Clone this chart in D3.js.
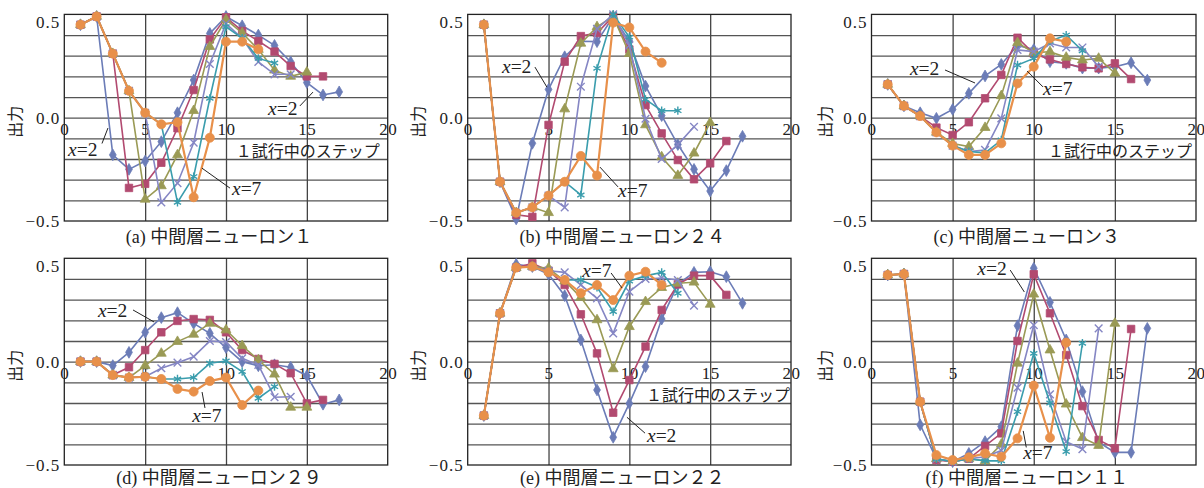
<!DOCTYPE html>
<html><head><meta charset="utf-8">
<script src="https://cdn.jsdelivr.net/npm/d3@7"></script>
<style>
html,body{margin:0;padding:0;background:#fff;}
svg{display:block;}
</style></head>
<body>
<svg id="chart" width="1204" height="488"></svg>
<script>
// ---------- data ----------
const seriesNames = ["x=2", "x=3", "x=4", "x=5", "x=6", "x=7"];
const panelCaptions = ["中間層ニューロン１", "中間層ニューロン２４", "中間層ニューロン３", "中間層ニューロン２９", "中間層ニューロン２２", "中間層ニューロン１１"];
const panelLetters = ["(a)", "(b)", "(c)", "(d)", "(e)", "(f)"];
const xTicks = [0, 5, 10, 15, 20];
const yTicks = [-0.5, 0.0, 0.5];
const yGrid = [-0.4, -0.3, -0.2, -0.1, 0, 0.1, 0.2, 0.3, 0.4];
const xAxisTitle = "１試行中のステップ";
const yAxisTitle = "出力";

// panel (a) 中間層ニューロン１
const a_x2 = [0.45,0.49,-0.18,-0.25,-0.21,-0.116,0.024,0.182,0.408,0.49,0.445,0.40,0.35,0.27,0.17,0.11,0.125];
const a_x3 = [0.45,0.49,0.31,-0.34,-0.32,-0.218,-0.051,0.134,0.379,0.486,0.42,0.371,0.32,0.25,0.2,0.2];
const a_x4 = [0.45,0.49,0.31,0.13,-0.395,-0.33,-0.18,0.034,0.344,0.475,0.41,0.33,0.23,0.2,0.22];
const a_x5 = [0.45,0.49,0.31,0.13,0.024,-0.41,-0.317,-0.121,0.26,0.455,0.385,0.27,0.21,0.21];
const a_x6 = [0.45,0.49,0.31,0.13,0.024,-0.032,-0.41,-0.285,0.094,0.44,0.385,0.287,0.265];
const a_x7 = [0.45,0.49,0.31,0.13,0.024,-0.032,-0.022,-0.385,-0.097,0.368,0.368,0.331];

// panel (b) 中間層ニューロン２４
const b_x2 = [0.45,-0.31,-0.49,-0.124,0.137,0.295,0.37,0.368,0.49,0.37,0.153,0.01,-0.13,-0.25,-0.355,-0.256,-0.09];
const b_x3 = [0.45,-0.31,-0.47,-0.48,-0.035,0.271,0.395,0.41,0.49,0.33,0.061,-0.076,-0.205,-0.298,-0.221,-0.113];
const b_x4 = [0.45,-0.31,-0.46,-0.434,-0.46,0.042,0.36,0.44,0.49,0.31,-0.035,-0.19,-0.28,-0.172,-0.024];
const b_x5 = [0.45,-0.31,-0.46,-0.434,-0.377,-0.434,0.15,0.43,0.5,0.35,-0.005,-0.2,-0.13,-0.044];
const b_x6 = [0.45,-0.31,-0.46,-0.434,-0.377,-0.31,-0.374,0.239,0.5,0.39,0.089,0.034,0.034];
const b_x7 = [0.45,-0.31,-0.46,-0.434,-0.377,-0.31,-0.185,-0.28,0.46,0.437,0.32,0.266];

// panel (c) 中間層ニューロン３
const c_x2 = [0.161,0.057,0.024,-0.003,0.04,0.118,0.202,0.258,0.35,0.33,0.271,0.263,0.24,0.24,0.247,0.266,0.182];
const c_x3 = [0.161,0.057,0.008,-0.048,-0.084,-0.022,0.094,0.207,0.387,0.31,0.282,0.26,0.244,0.239,0.263,0.187];
const c_x4 = [0.161,0.057,0.008,-0.071,-0.125,-0.14,-0.048,0.106,0.363,0.315,0.319,0.292,0.279,0.287,0.215];
const c_x5 = [0.161,0.057,0.008,-0.071,-0.135,-0.164,-0.156,-0.003,0.328,0.32,0.36,0.34,0.34,0.247];
const c_x6 = [0.161,0.057,0.008,-0.071,-0.135,-0.164,-0.17,-0.108,0.255,0.287,0.37,0.4,0.324];
const c_x7 = [0.161,0.057,0.008,-0.071,-0.135,-0.18,-0.18,-0.124,0.166,0.247,0.384,0.368];

// panel (d) 中間層ニューロン２９
const d_x2 = [0,0,-0.019,0.045,0.142,0.213,0.237,0.185,0.137,0.068,0,-0.02,-0.015,-0.027,-0.068,-0.206,-0.185];
const d_x3 = [0,0,-0.065,-0.027,0.056,0.142,0.197,0.206,0.202,0.142,0.056,0.013,-0.011,-0.056,-0.202,-0.185];
const d_x4 = [0,0,-0.065,-0.077,-0.019,0.04,0.097,0.132,0.185,0.153,0.077,0.008,-0.061,-0.221,-0.221];
const d_x5 = [0,0,-0.065,-0.077,-0.073,-0.032,-0.005,0.024,0.1,0.095,0.016,-0.016,-0.172,-0.17];
const d_x6 = [0,0,-0.065,-0.077,-0.073,-0.084,-0.084,-0.077,-0.008,0.003,-0.048,-0.177,-0.121];
const d_x7 = [0,0,-0.065,-0.077,-0.073,-0.084,-0.132,-0.145,-0.094,-0.077,-0.21,-0.14];

// panel (e) 中間層ニューロン２２
const e_x2 = [-0.261,0.234,0.471,0.46,0.423,0.319,0.105,-0.137,-0.366,-0.202,-0.024,0.206,0.374,0.432,0.435,0.411,0.282];
const e_x3 = [-0.261,0.234,0.455,0.476,0.44,0.371,0.229,0.04,-0.247,-0.089,0.073,0.25,0.374,0.416,0.416,0.323];
const e_x4 = [-0.261,0.234,0.455,0.46,0.452,0.39,0.311,0.202,-0.035,0.169,0.29,0.358,0.379,0.384,0.277];
const e_x5 = [-0.261,0.234,0.455,0.46,0.44,0.432,0.371,0.306,0.137,0.339,0.4,0.405,0.395,0.271];
const e_x6 = [-0.261,0.234,0.455,0.46,0.432,0.395,0.395,0.36,0.242,0.39,0.415,0.432,0.331];
const e_x7 = [-0.261,0.234,0.455,0.46,0.432,0.395,0.331,0.371,0.298,0.416,0.435,0.371];

// panel (f) 中間層ニューロン１１
const f_x2 = [0.419,0.424,-0.306,-0.47,-0.484,-0.444,-0.387,-0.315,0.174,0.452,0.287,0.105,-0.145,-0.39,-0.439,-0.439,0.161];
const f_x3 = [0.419,0.424,-0.194,-0.476,-0.484,-0.47,-0.408,-0.347,0.1,0.423,0.234,0.032,-0.215,-0.379,-0.419,0.158];
const f_x4 = [0.419,0.424,-0.194,-0.47,-0.484,-0.47,-0.48,-0.4,-0.008,0.326,0.056,-0.206,-0.368,-0.406,0.185];
const f_x5 = [0.419,0.424,-0.194,-0.47,-0.484,-0.47,-0.46,-0.43,-0.126,0.177,-0.158,-0.387,-0.423,0.161];
const f_x6 = [0.419,0.424,-0.194,-0.47,-0.484,-0.47,-0.48,-0.48,-0.242,0.04,-0.2,-0.435,0.089];
const f_x7 = [0.419,0.424,-0.194,-0.452,-0.476,-0.463,-0.444,-0.46,-0.371,-0.116,-0.368,0.092];

// annotations: [panel, label, textLeft(step), textCenter(value), lineFromStep, lineFromVal, lineToStep, lineToVal]
const annotations = [
  [0, "2", 0.23, -0.156, 2.33, -0.125, 2.70, -0.05],
  [0, "2", 12.6, 0.042, 14.57, 0.057, 15.38, 0.124],
  [0, "7", 10.37, -0.343, 10.25, -0.341, 8.51, -0.244],
  [1, "2", 2.12, 0.243, 4.16, 0.245, 4.9, 0.148],
  [1, "7", 9.3, -0.355, 9.3, -0.335, 8.18, -0.239],
  [2, "2", 2.37, 0.236, 4.53, 0.231, 6.38, 0.168],
  [2, "7", 10.57, 0.141, 10.57, 0.149, 9.59, 0.226],
  [3, "2", 2.08, 0.245, 4.25, 0.25, 5.55, 0.192],
  [3, "7", 7.91, -0.263, 8.7, -0.224, 8.52, -0.147],
  [4, "7", 7.08, 0.439, 8.87, 0.429, 9.55, 0.356],
  [4, "2", 11.09, -0.359, 10.97, -0.346, 9.85, -0.269],
  [5, "2", 6.52, 0.448, 8.55, 0.443, 9.42, 0.337],
  [5, "7", 9.35, -0.44, 9.35, -0.335, 9.54, -0.415]
];

// ---------- styling / layout ----------
const colors = ["#6B7CB7", "#B24A70", "#9A9A55", "#8586C4", "#3A9DAD", "#E8904A"];
const symbols = [d3.symbolDiamond, d3.symbolSquare, d3.symbolTriangle, d3.symbolTimes || d3.symbolCross, d3.symbolAsterisk || d3.symbolCross, d3.symbolCircle];
const symSizes = [40, 56, 42, 40, 48, 64];
const strokeSym = [false, false, false, true, true, false];

const panelData = [
  [a_x2,a_x3,a_x4,a_x5,a_x6,a_x7],
  [b_x2,b_x3,b_x4,b_x5,b_x6,b_x7],
  [c_x2,c_x3,c_x4,c_x5,c_x6,c_x7],
  [d_x2,d_x3,d_x4,d_x5,d_x6,d_x7],
  [e_x2,e_x3,e_x4,e_x5,e_x6,e_x7],
  [f_x2,f_x3,f_x4,f_x5,f_x6,f_x7]
];
const cols = [[64.3, 387.7], [467.7, 791], [871.5, 1196]];
const rows = [[14.4, 221], [258.3, 465]];
const titleX = [15, 418, 824.5];
const captionBase = [243, 484];
const xTitleRightPad = [8, null, 4, null, 1, null];

const svg = d3.select("#chart");
const serif = "'Liberation Serif', 'DejaVu Serif', serif";
const sans = "'Noto Sans CJK JP', 'Noto Sans', sans-serif";

panelData.forEach((series, pi) => {
  const ci = pi % 3, ri = Math.floor(pi / 3);
  const [x0, x1] = cols[ci], [y0, y1] = rows[ri];
  const x = d3.scaleLinear().domain([0, 20]).range([x0, x1]);
  const y = d3.scaleLinear().domain([-0.5, 0.5]).range([y1, y0]);
  const g = svg.append("g");

  // horizontal grid
  g.append("g").attr("transform", `translate(${x0},0)`)
    .call(d3.axisLeft(y).tickValues(yGrid).tickSize(-(x1 - x0)).tickFormat(""))
    .call(s => s.select(".domain").remove())
    .call(s => s.selectAll("line").attr("stroke", "#555").attr("stroke-width", 1.3));
  // vertical grid
  g.append("g").attr("transform", `translate(0,${y1})`)
    .call(d3.axisBottom(x).tickValues([5, 10, 15]).tickSize(-(y1 - y0)).tickFormat(""))
    .call(s => s.select(".domain").remove())
    .call(s => s.selectAll("line").attr("stroke", "#444").attr("stroke-width", 1.3));
  // frame
  g.append("rect").attr("x", x0).attr("y", y0).attr("width", x1 - x0).attr("height", y1 - y0)
    .attr("fill", "none").attr("stroke", "#222").attr("stroke-width", 1.3);

  // y tick labels
  const ya = g.append("g").attr("transform", `translate(${x0},0)`)
    .call(d3.axisLeft(y).tickValues(yTicks).tickSize(0).tickPadding(4).tickFormat(d3.format(".1f")));
  ya.select(".domain").remove();
  ya.selectAll("text").attr("font-family", serif).attr("font-size", 17).attr("letter-spacing", 1).attr("fill", "#222")
    .attr("transform", d => d === 0.5 ? "translate(0,8)" : null);

  // x tick labels along y=0
  const xa = g.append("g").attr("transform", `translate(0,${y(0)})`)
    .call(d3.axisBottom(x).tickValues(xTicks).tickSize(0).tickPadding(5));
  xa.select(".domain").remove();
  xa.selectAll("text").attr("font-family", serif).attr("font-size", 17).attr("letter-spacing", 0.5).attr("fill", "#222");

  // axis titles
  g.append("text").attr("transform", `translate(${titleX[ci] + 6},${(y0 + y1) / 2 + 4}) rotate(-90)`)
    .attr("text-anchor", "middle").attr("font-family", sans).attr("font-size", 16).attr("fill", "#222")
    .text(yAxisTitle);
  if (xTitleRightPad[pi] !== null) {
    g.append("text").attr("x", x1 - xTitleRightPad[pi]).attr("y", y(0) + 39).attr("text-anchor", "end")
      .attr("font-family", sans).attr("font-size", 16).attr("fill", "#222").text(xAxisTitle);
  }
  // caption
  const cap = g.append("text").attr("x", (x0 + x1) / 2 - 7).attr("y", captionBase[ri])
    .attr("text-anchor", "middle").attr("font-size", 18).attr("fill", "#222");
  cap.append("tspan").attr("font-family", serif).text(panelLetters[pi] + " ");
  cap.append("tspan").attr("font-family", sans).text(panelCaptions[pi]);

  // series
  const line = d3.line().x((d, i) => x(i + 1)).y(d => y(d));
  series.forEach((vals, si) => {
    const sg = g.append("g");
    sg.append("path").datum(vals).attr("d", line).attr("fill", "none")
      .attr("stroke", colors[si]).attr("stroke-width", si === 5 ? 2.2 : 1.6);
    const sym = d3.symbol().type(symbols[si]).size(symSizes[si]);
    sg.selectAll("path.m").data(vals).join("path").attr("class", "m")
      .attr("transform", (d, i) => `translate(${x(i + 1)},${y(d)})`)
      .attr("d", sym)
      .attr("fill", strokeSym[si] ? "none" : colors[si])
      .attr("stroke", colors[si]).attr("stroke-width", strokeSym[si] ? 1.4 : 0.8);
  });

  // annotations
  annotations.filter(a => a[0] === pi).forEach(a => {
    g.append("line").attr("x1", x(a[4])).attr("y1", y(a[5])).attr("x2", x(a[6])).attr("y2", y(a[7]))
      .attr("stroke", "#222").attr("stroke-width", 1);
    const t = g.append("text").attr("x", x(a[2])).attr("y", y(a[3]) + 6)
      .attr("font-family", serif).attr("font-size", 19.5).attr("fill", "#222");
    t.append("tspan").attr("font-style", "italic").text("x");
    t.append("tspan").text("=" + a[1]);
  });
});
</script>
</body></html>
